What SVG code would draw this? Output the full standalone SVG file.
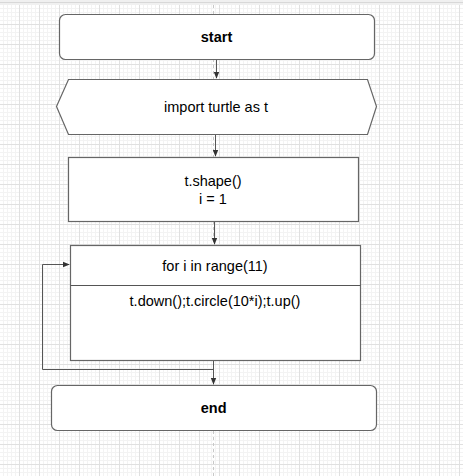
<svg xmlns="http://www.w3.org/2000/svg" width="463" height="476" viewBox="0 0 463 476">
<defs>
<pattern id="minor" x="-1" y="0" width="4" height="4" patternUnits="userSpaceOnUse">
<path d="M0 0.5H4M0.5 0V4" stroke="#f3f3f3" stroke-width="1" fill="none"/>
</pattern>
<pattern id="major" x="-1" y="4" width="20" height="20" patternUnits="userSpaceOnUse">
<path d="M0 0.5H20M0.5 0V20" stroke="#e0e0e0" stroke-width="1" fill="none"/>
</pattern>
<marker id="arr" viewBox="0 0 10 10" refX="9" refY="5" markerWidth="7" markerHeight="7" orient="auto" markerUnits="userSpaceOnUse">
<path d="M0 1L10 5L0 9Z" fill="#333"/>
</marker>
</defs>
<style>
.box{fill:#fff;stroke:#666;stroke-width:1.2}
.t{font-family:"Liberation Sans",Arial,sans-serif;font-size:14.5px;fill:#000;text-anchor:middle}
.b{font-weight:bold}
.c{fill:none;stroke:#555;stroke-width:1}
</style>
<rect width="463" height="476" fill="#fff"/>
<rect width="463" height="476" fill="url(#minor)"/>
<rect width="463" height="476" fill="url(#major)"/>
<rect x="0" y="0" width="463" height="5" fill="#f0f0f0"/>
<line x1="0" y1="2.5" x2="463" y2="2.5" stroke="#d8d8d8" stroke-width="1"/>
<line x1="213.5" y1="5" x2="213.5" y2="476" stroke="#c8c8c8" stroke-width="1" stroke-dasharray="3,3"/>
<g id="connectors">
<path class="c" d="M216.5 60V78" marker-end="url(#arr)"/>
<path class="c" d="M215.5 135V156" marker-end="url(#arr)"/>
<path class="c" d="M214.5 222V244" marker-end="url(#arr)"/>
<path class="c" d="M213.5 361V384" marker-end="url(#arr)"/>
<path class="c" d="M213 369.5H42.5V264.5H69" marker-end="url(#arr)"/>
</g>
<g id="start">
<rect class="box" x="59.5" y="14.5" width="315" height="45" rx="6"/>
<text class="t b" x="216.5" y="42">start</text>
</g>
<g id="import">
<path class="box" d="M68.5 79.5H367.5L376.5 106.5L367.5 134.5H68.5L56.5 106.5Z"/>
<text class="t" x="216" y="112">import turtle as t</text>
</g>
<g id="shape">
<rect class="box" x="68.5" y="157.5" width="290" height="64"/>
<text class="t" x="213" y="186">t.shape()</text>
<text class="t" x="213" y="204">i = 1</text>
</g>
<g id="loop">
<rect class="box" x="70.5" y="245.5" width="290" height="115"/>
<line x1="70.5" y1="285.5" x2="360.5" y2="285.5" stroke="#555" stroke-width="1.2"/>
<text class="t" x="215" y="270.5">for i in range(11)</text>
<text class="t" x="215" y="306">t.down();t.circle(10*i);t.up()</text>
</g>
<g id="end">
<rect class="box" x="51.5" y="385.5" width="325" height="45" rx="6"/>
<text class="t b" x="213.7" y="412.5">end</text>
</g>
</svg>
